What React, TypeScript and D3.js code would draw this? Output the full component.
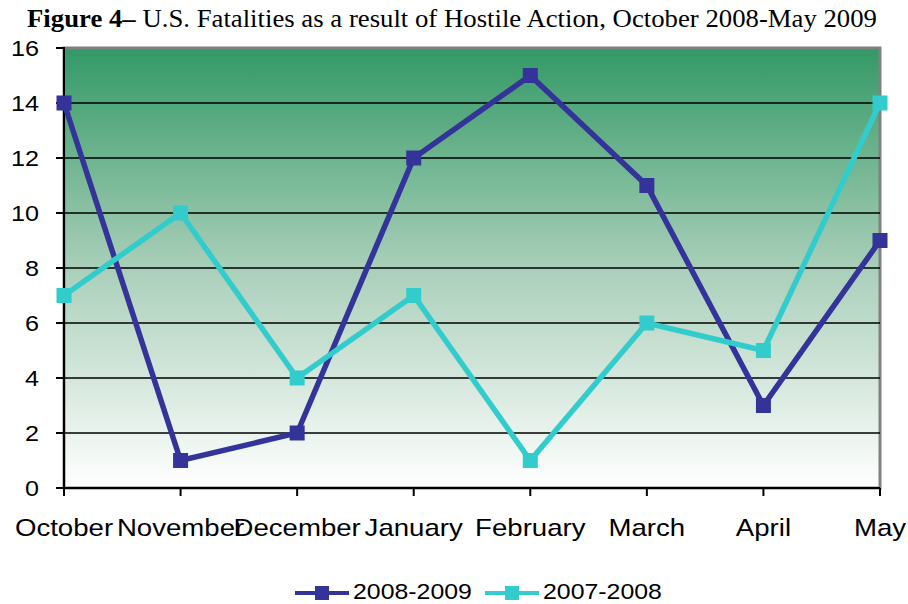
import React from "react";
import * as d3 from "d3";

const months = ["October", "November", "December", "January", "February", "March", "April", "May"];
const series2008 = [14, 1, 2, 12, 15, 11, 3, 9];
const series2007 = [7, 10, 4, 7, 1, 6, 5, 14];
const yTicks = [0, 2, 4, 6, 8, 10, 12, 14, 16];
const seriesNames = ["2008-2009", "2007-2008"];
const seriesColors = ["#333399", "#33CCCC"];

const W = 908, H = 604;
const left = 64, right = 880, top = 48, bottom = 488;

function SText({ x, y, sx, anchor, size, children }: any) {
  return (
    <g transform={`translate(${x},${y}) scale(${sx},1)`}>
      <text x={0} y={0} textAnchor={anchor} fontFamily="'Liberation Sans', Arial, sans-serif" fontSize={size}>{children}</text>
    </g>
  );
}

export default function App() {
  const x = d3.scalePoint<string>().domain(months).range([left, right]);
  const y = d3.scaleLinear().domain([0, 16]).range([bottom, top]);
  const line = d3.line<number>().x((_, i) => x(months[i])!).y(d => y(d));
  const allSeries = [series2008, series2007];
  return (
    <svg width={W} height={H} style={{ position: "absolute", left: 0, top: 0 }}>
      <defs>
        <linearGradient id="bg" x1="0" y1="0" x2="0" y2="1">
          <stop offset="0" stopColor="#339966" />
          <stop offset="0.5" stopColor="#a9cfb9" />
          <stop offset="1" stopColor="#ffffff" />
        </linearGradient>
      </defs>
      <rect width={W} height={H} fill="#fff" />
      <text x={27} y={27} textLength={850} lengthAdjust="spacingAndGlyphs" fontFamily="'Liberation Serif', 'Times New Roman', serif" fontSize={25}>
        <tspan fontWeight="bold">Figure 4–</tspan>
        <tspan> U.S. Fatalities as a result of Hostile Action, October 2008-May 2009</tspan>
      </text>
      <rect x={left} y={top} width={right - left} height={bottom - top} fill="url(#bg)" stroke="#808080" strokeWidth={3} />
      {yTicks.filter(t => t > 0 && t < 16).map(t => (
        <line key={t} x1={left} x2={right} y1={y(t)} y2={y(t)} stroke="#000" strokeWidth={1.5} />
      ))}
      <line x1={left} x2={left} y1={top - 1} y2={bottom} stroke="#000" strokeWidth={2} />
      <line x1={left} x2={right} y1={bottom} y2={bottom} stroke="#000" strokeWidth={2} />
      {yTicks.map(t => (
        <g key={t}>
          <line x1={left - 8} x2={left} y1={y(t)} y2={y(t)} stroke="#000" strokeWidth={2} />
          <SText x={39} y={y(t) + 8} sx={1.12} anchor="end" size={22.5}>{t}</SText>
        </g>
      ))}
      {months.map(m => (
        <g key={m}>
          <line x1={x(m)} x2={x(m)} y1={bottom} y2={bottom + 8} stroke="#000" strokeWidth={2} />
          <SText x={x(m)} y={536} sx={1.15} anchor="middle" size={24}>{m}</SText>
        </g>
      ))}
      {allSeries.map((s, si) => (
        <g key={si}>
          <path d={line(s)!} fill="none" stroke={seriesColors[si]} strokeWidth={5.5} strokeLinejoin="miter" />
          {s.map((v, i) => (
            <rect key={i} x={x(months[i])! - 7.5} y={y(v) - 7.5} width={15} height={15} fill={seriesColors[si]} />
          ))}
        </g>
      ))}
      {seriesNames.map((n, i) => {
        const lx = [295, 485][i];
        return (
          <g key={n}>
            <line x1={lx} x2={lx + 54} y1={593} y2={593} stroke={seriesColors[i]} strokeWidth={4} />
            <rect x={lx + 20} y={586} width={14} height={14} fill={seriesColors[i]} />
            <SText x={lx + 58} y={599} sx={1.13} anchor="start" size={22}>{n}</SText>
          </g>
        );
      })}
    </svg>
  );
}
